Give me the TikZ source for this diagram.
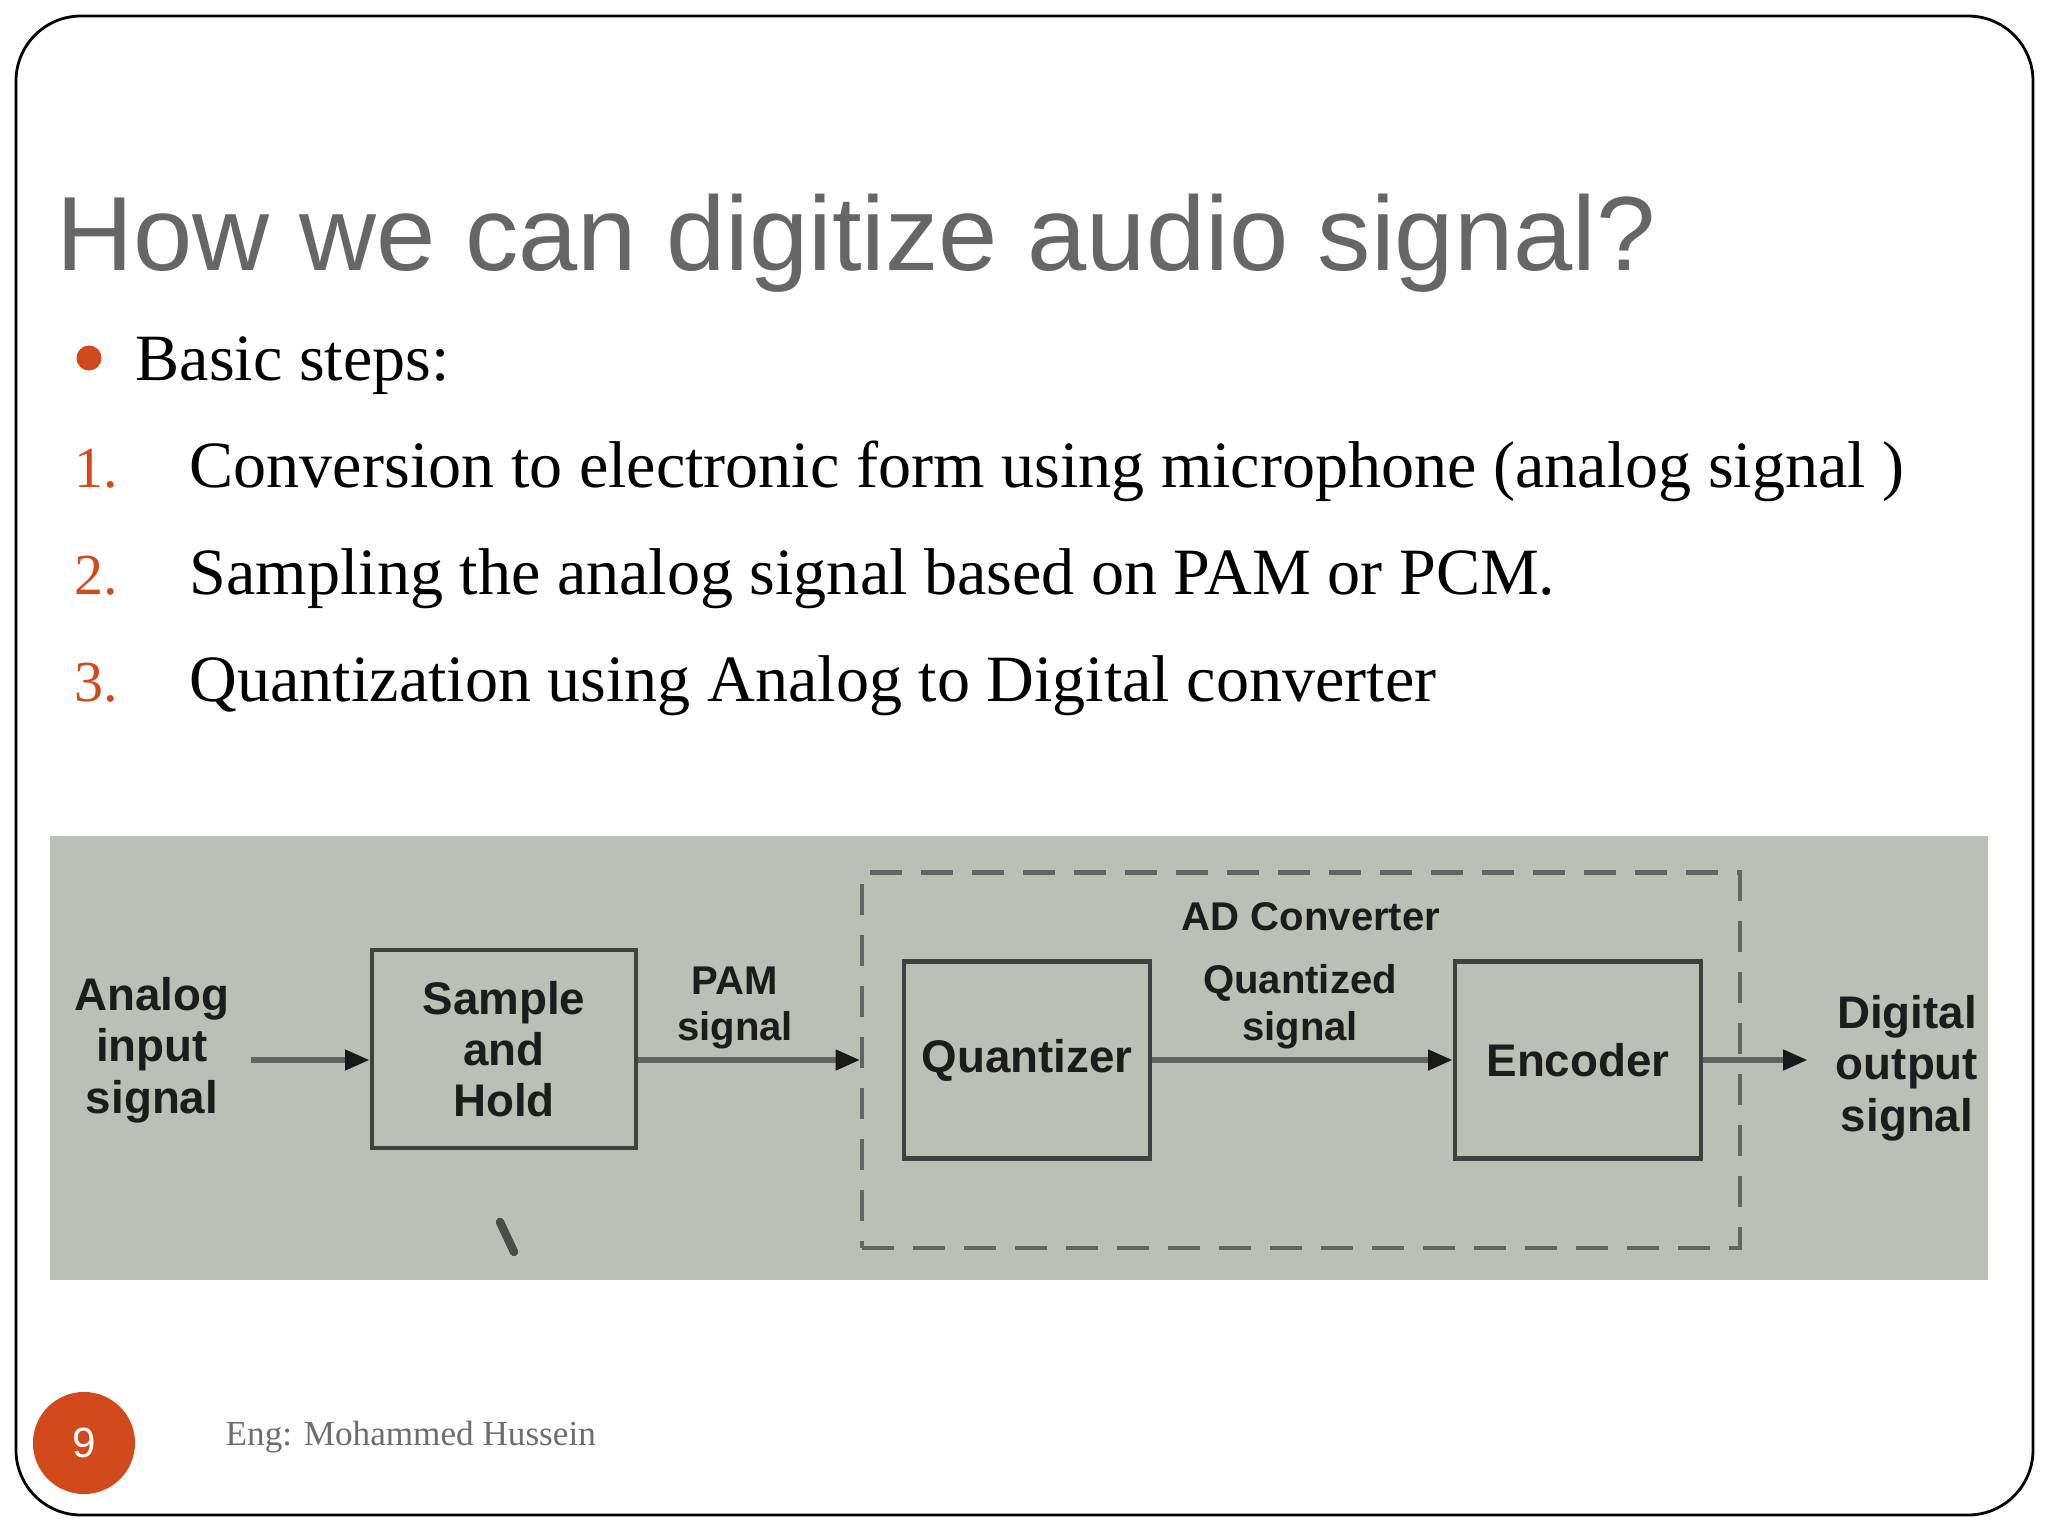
\documentclass[tikz,border=0pt]{standalone}
\usepackage{xcolor}
\usepackage{fontspec}
\setmainfont{Liberation Serif}
\setsansfont{Liberation Sans}
\newfontfamily\titlefont[FakeStretch=1.01]{Liberation Sans}
\usetikzlibrary{arrows.meta,positioning}

\definecolor{slideorange}{RGB}{210,74,27}
\definecolor{titlegray}{RGB}{102,102,102}
\definecolor{footgray}{RGB}{110,110,110}
\definecolor{panelgray}{RGB}{187,192,183}
\definecolor{inkdark}{RGB}{28,28,28}
\definecolor{wiregray}{RGB}{100,100,100}

\begin{document}
\begin{tikzpicture}[
        x=0.01cm, y=-0.01cm,
        >={Triangle[length=7pt,width=5.6pt,color=black!90]},
        steptext/.style={anchor=base west, inner sep=0pt, font=\fontsize{18.8}{22}\selectfont},
        numtext/.style={steptext, text=slideorange, font=\fontsize{16.5}{20}\selectfont},
        block/.style={rectangle, draw=black!75, line width=1.3pt, align=center, text=inkdark, font=\sffamily\bfseries\fontsize{13}{14.6}\selectfont},
        blocktext/.style={align=center, text=inkdark, font=\sffamily\bfseries\fontsize{13}{14.6}\selectfont},
        sigtext/.style={align=center, text=inkdark, font=\sffamily\bfseries\fontsize{11.4}{13.3}\selectfont},
        sigline/.style={->, draw=wiregray, line width=1.6pt},
        adcbox/.style={draw=wiregray, line width=1.2pt, dash pattern=on 9pt off 5.5pt}
    ]
        \useasboundingbox (0,0) rectangle (2048,1536);
        \fill[white] (0,0) rectangle (2048,1536);

        % slide frame
        \draw[line width=0.8pt, rounded corners=0.65cm] (16,16) rectangle (2033,1515);

        % title and list
        \node[anchor=base west, inner sep=0pt, text=titlegray, font=\titlefont\fontsize{30}{36}\selectfont] (title) at (56,270) {How we can digitize audio signal?};
        \node[circle, fill=slideorange, minimum size=0.25cm, inner sep=0pt] (bullet) at (89,358) {};
        \node[steptext] (basic) at (135,380) {Basic steps:};
        \node[numtext] (num1) at (74,487) {1.};
        \node[steptext] (step1) at (189,487) {Conversion to electronic form using microphone (analog signal )};
        \node[numtext] (num2) at (74,594) {2.};
        \node[steptext] (step2) at (189,594) {Sampling the analog signal based on PAM or PCM.};
        \node[numtext] (num3) at (74,701) {3.};
        \node[steptext] (step3) at (189,701) {Quantization using Analog to Digital converter};

        % block diagram
        \fill[panelgray] (50,836) rectangle (1988,1280);
        \node[adcbox, minimum width=8.77cm, minimum height=3.75cm] (adc) at (1301,1060) {};
        \node[sigtext] (adlabel) at (1311,917) {AD Converter};

        \node[blocktext, inner sep=6pt] (analog) at (152,1050) {Analog\\input\\signal};
        \node[block, minimum width=2.64cm, minimum height=1.98cm] (sah) at (504,1049) {Sample\\and\\Hold};
        \node[block, minimum width=2.46cm, minimum height=1.97cm] (quant) at (1027,1060) {Quantizer};
        \node[block, minimum width=2.46cm, minimum height=1.97cm] (enc) at (1578,1060) {Encoder};
        \node[blocktext] (digital) at (1907,1068) {Digital\\output\\signal};

        \node[sigtext] (pam) at (735,1008) {PAM\\signal};
        \node[sigtext] (qsig) at (1300,1007) {Quantized\\signal};

        \draw[sigline] (analog.east |- quant) -- (sah.west |- quant);
        \draw[sigline] (sah.east |- quant) -- (adc.west |- quant);
        \draw[sigline] (quant) -- (enc);
        \draw[sigline, shorten >=4.5pt] (enc.east) -- (digital.west |- enc);

        % pointer mark
        \draw[line width=2.4pt, black!70, line cap=round] (500,1222) -- (514,1252);

        % footer
        \node[circle, fill=slideorange, minimum size=1.02cm, inner sep=0pt, text=white, font=\sffamily\fontsize{12}{14}\selectfont] (pagenum) at (84,1443) {9};
        \node[anchor=base west, inner sep=0pt, text=footgray, font=\fontsize{10}{12}\selectfont] (author) at (225,1445) {Eng: Mohammed Hussein};
    \end{tikzpicture}
\end{document}
